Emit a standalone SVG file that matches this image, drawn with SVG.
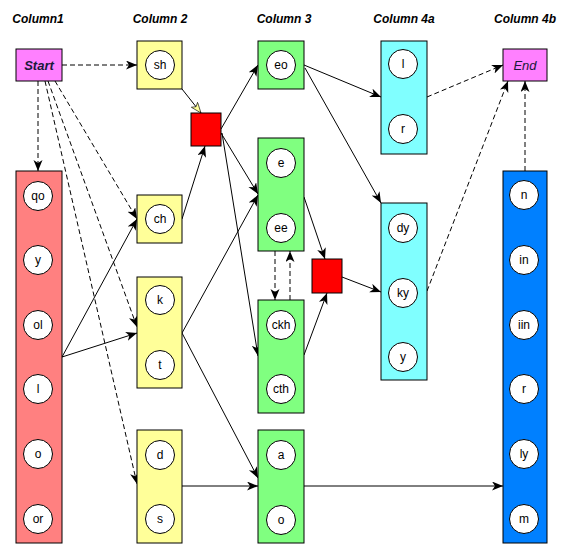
<svg xmlns="http://www.w3.org/2000/svg" width="562" height="551" viewBox="0 0 562 551">
<defs>
<marker id="arr" markerUnits="userSpaceOnUse" markerWidth="12" markerHeight="10" refX="11" refY="4.5" orient="auto">
<path d="M0,0 L11,4.5 L0,9 L3,4.5 z" fill="#000"/>
</marker>
<marker id="arrY" markerUnits="userSpaceOnUse" markerWidth="12" markerHeight="10" refX="11" refY="4.5" orient="auto">
<path d="M0.5,0.5 L11,4.5 L0.5,8.5 L3,4.5 z" fill="#ffff99" stroke="#000" stroke-width="0.6"/>
</marker>
</defs>
<style>
.hdr{font-family:"Liberation Sans",Arial,sans-serif;font-size:12px;font-weight:bold;font-style:italic;fill:#000;text-anchor:middle}
.box{stroke:#000;stroke-width:1}
.cir{fill:#fff;stroke:#000;stroke-width:1}
.lbl{font-family:"Liberation Sans",Arial,sans-serif;font-size:12px;fill:#000;text-anchor:middle;dominant-baseline:central}
.se{font-family:"Liberation Sans",Arial,sans-serif;font-size:13px;font-style:italic;fill:#1a1a3a;text-anchor:middle;dominant-baseline:central}
.e{fill:none;stroke:#000;stroke-width:1;marker-end:url(#arr)}
.d{fill:none;stroke:#000;stroke-width:1;stroke-dasharray:5,3;marker-end:url(#arr)}
.yel{fill:#ffff99}.red{fill:#ff8080}.grn{fill:#80ff80}.cyn{fill:#80ffff}.blu{fill:#0080ff}.mag{fill:#ff80ff}.sq{fill:#ff0000}
</style>
<g id="headers">
<text class="hdr" x="38" y="23">Column1</text>
<text class="hdr" x="160" y="23">Column 2</text>
<text class="hdr" x="284" y="23">Column 3</text>
<text class="hdr" x="404" y="23">Column 4a</text>
<text class="hdr" x="525" y="23">Column 4b</text>
</g>
<g id="connectors">
<line class="d" x1="62" y1="65" x2="137" y2="65"/>
<line class="d" x1="38" y1="81" x2="38" y2="171"/>
<line class="d" x1="55" y1="81" x2="137" y2="219"/>
<line class="d" x1="48" y1="81" x2="137" y2="327"/>
<line class="d" x1="45" y1="81" x2="137" y2="484"/>
<line class="e" x1="62" y1="357" x2="137" y2="219"/>
<line class="e" x1="62" y1="357" x2="137" y2="333"/>
<line fill="none" stroke="#000" x1="182" y1="89" x2="201" y2="113" marker-end="url(#arrY)"/>
<line class="e" x1="182" y1="219" x2="205" y2="146"/>
<line class="e" x1="221" y1="129" x2="258" y2="65"/>
<line class="e" x1="221" y1="133" x2="258" y2="194"/>
<line class="e" x1="222" y1="133" x2="258" y2="356"/>
<line class="e" x1="182" y1="333" x2="258" y2="195"/>
<line class="e" x1="182" y1="333" x2="258" y2="478"/>
<line class="e" x1="182" y1="486" x2="258" y2="486"/>
<line class="e" x1="304" y1="486" x2="503" y2="486"/>
<line class="e" x1="304" y1="65" x2="381" y2="97"/>
<line class="e" x1="305" y1="68" x2="381" y2="203"/>
<line class="e" x1="304" y1="197" x2="325" y2="259"/>
<line class="e" x1="304" y1="355" x2="327" y2="293"/>
<line class="e" x1="342" y1="277" x2="381" y2="292"/>
<line class="d" x1="275" y1="251" x2="275" y2="300"/>
<line class="d" x1="290" y1="300" x2="290" y2="251"/>
<line class="d" x1="427" y1="97" x2="503" y2="65"/>
<line class="d" x1="427" y1="291" x2="508" y2="81"/>
<line class="d" x1="525" y1="171" x2="525" y2="81"/>
</g>
<g id="start">
<rect class="box mag" x="16" y="49" width="46" height="32"/>
<text class="se" x="39" y="65" font-weight="bold">Start</text>
</g>
<g id="end">
<rect class="box mag" x="503" y="49" width="44" height="32"/>
<text class="se" x="525" y="65">End</text>
</g>
<g id="col1">
<rect class="box red" x="16" y="171" width="46" height="372"/>
<circle class="cir" cx="38" cy="196" r="14.5"/><text class="lbl" x="38" y="196">qo</text>
<circle class="cir" cx="38" cy="260" r="14.5"/><text class="lbl" x="38" y="260">y</text>
<circle class="cir" cx="38" cy="325" r="14.5"/><text class="lbl" x="38" y="325">ol</text>
<circle class="cir" cx="38" cy="389" r="14.5"/><text class="lbl" x="38" y="389">l</text>
<circle class="cir" cx="38" cy="454" r="14.5"/><text class="lbl" x="38" y="454">o</text>
<circle class="cir" cx="38" cy="519" r="14.5"/><text class="lbl" x="38" y="519">or</text>
</g>
<g id="sh">
<rect class="box yel" x="137" y="41" width="45" height="48"/>
<circle class="cir" cx="160" cy="65" r="14.5"/><text class="lbl" x="160" y="65">sh</text>
</g>
<g id="ch">
<rect class="box yel" x="137" y="195" width="45" height="48"/>
<circle class="cir" cx="160" cy="219" r="14.5"/><text class="lbl" x="160" y="219">ch</text>
</g>
<g id="kt">
<rect class="box yel" x="137" y="277" width="45" height="111"/>
<circle class="cir" cx="160" cy="300" r="14.5"/><text class="lbl" x="160" y="300">k</text>
<circle class="cir" cx="160" cy="365" r="14.5"/><text class="lbl" x="160" y="365">t</text>
</g>
<g id="ds">
<rect class="box yel" x="137" y="430" width="45" height="113"/>
<circle class="cir" cx="160" cy="455" r="14.5"/><text class="lbl" x="160" y="455">d</text>
<circle class="cir" cx="160" cy="519" r="14.5"/><text class="lbl" x="160" y="519">s</text>
</g>
<g id="red1">
<rect class="box sq" x="191" y="113" width="30" height="33"/>
</g>
<g id="eo">
<rect class="box grn" x="258" y="41" width="46" height="48"/>
<circle class="cir" cx="281" cy="65" r="14.5"/><text class="lbl" x="281" y="65">eo</text>
</g>
<g id="eee">
<rect class="box grn" x="258" y="138" width="46" height="113"/>
<circle class="cir" cx="281" cy="163" r="14.5"/><text class="lbl" x="281" y="163">e</text>
<circle class="cir" cx="281" cy="228" r="14.5"/><text class="lbl" x="281" y="228">ee</text>
</g>
<g id="ckhcth">
<rect class="box grn" x="258" y="300" width="46" height="113"/>
<circle class="cir" cx="281" cy="325" r="14.5"/><text class="lbl" x="281" y="325">ckh</text>
<circle class="cir" cx="281" cy="389" r="14.5"/><text class="lbl" x="281" y="389">cth</text>
</g>
<g id="ao">
<rect class="box grn" x="258" y="430" width="46" height="113"/>
<circle class="cir" cx="281" cy="455" r="14.5"/><text class="lbl" x="281" y="455">a</text>
<circle class="cir" cx="281" cy="520" r="14.5"/><text class="lbl" x="281" y="520">o</text>
</g>
<g id="red2">
<rect class="box sq" x="312" y="259" width="30" height="34"/>
</g>
<g id="lr">
<rect class="box cyn" x="381" y="41" width="46" height="113"/>
<circle class="cir" cx="403" cy="64" r="14.5"/><text class="lbl" x="403" y="64">l</text>
<circle class="cir" cx="403" cy="129" r="14.5"/><text class="lbl" x="403" y="129">r</text>
</g>
<g id="dykyy">
<rect class="box cyn" x="381" y="203" width="46" height="177"/>
<circle class="cir" cx="403" cy="228" r="14.5"/><text class="lbl" x="403" y="228">dy</text>
<circle class="cir" cx="403" cy="293" r="14.5"/><text class="lbl" x="403" y="293">ky</text>
<circle class="cir" cx="403" cy="357" r="14.5"/><text class="lbl" x="403" y="357">y</text>
</g>
<g id="col4b">
<rect class="box blu" x="503" y="171" width="44" height="372"/>
<circle class="cir" cx="524" cy="195" r="14.5"/><text class="lbl" x="524" y="195">n</text>
<circle class="cir" cx="524" cy="260" r="14.5"/><text class="lbl" x="524" y="260">in</text>
<circle class="cir" cx="524" cy="325" r="14.5"/><text class="lbl" x="524" y="325">iin</text>
<circle class="cir" cx="524" cy="389" r="14.5"/><text class="lbl" x="524" y="389">r</text>
<circle class="cir" cx="524" cy="454" r="14.5"/><text class="lbl" x="524" y="454">ly</text>
<circle class="cir" cx="524" cy="519" r="14.5"/><text class="lbl" x="524" y="519">m</text>
</g>
</svg>
